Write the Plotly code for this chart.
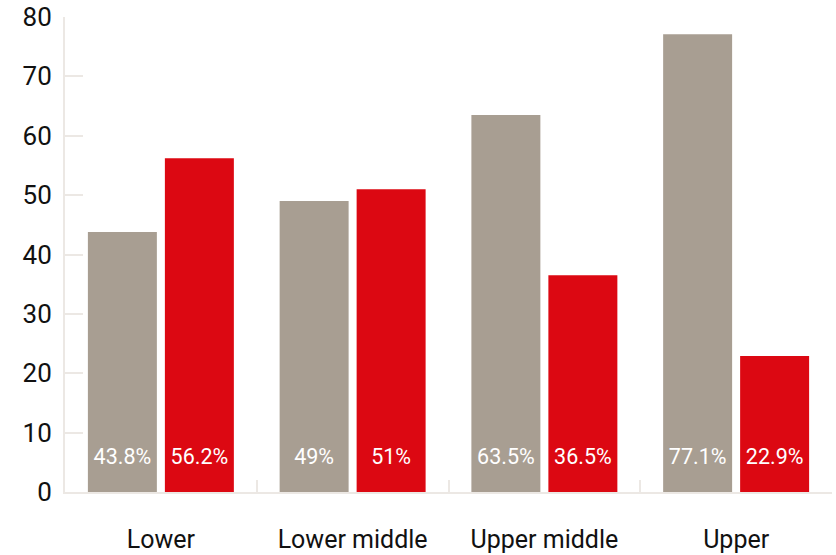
import plotly.graph_objects as go

categories = ["Lower", "Lower middle", "Upper middle", "Upper"]
gray_values = [43.8, 49, 63.5, 77.1]
red_values = [56.2, 51, 36.5, 22.9]
gray_labels = ["43.8%", "49%", "63.5%", "77.1%"]
red_labels = ["56.2%", "51%", "36.5%", "22.9%"]

FONT = "Roboto"
GRAY = "#a89e92"
RED = "#dc0812"
AXIS = "#ece8e4"

fig = go.Figure()
for vals, labs, col in [(gray_values, gray_labels, GRAY), (red_values, red_labels, RED)]:
    fig.add_trace(go.Bar(
        x=categories, y=vals, marker=dict(color=col, line=dict(width=0)),
        text=["<span style='font-size:21.5px'>" + l + "</span><br> " for l in labs],
        textposition="inside", insidetextanchor="start",
        textangle=0, textfont=dict(family=FONT, size=16, color="white"),
        hoverinfo="skip", showlegend=False,
    ))

fig.update_layout(
    width=836, height=555,
    margin=dict(l=65, r=4, t=17, b=63),
    paper_bgcolor="white", plot_bgcolor="white",
    barmode="group", bargap=0.197, bargroupgap=0.104,
    uniformtext=dict(mode=False),
    font=dict(family=FONT, color="#111111", size=25),
    xaxis=dict(
        showline=True, linecolor=AXIS, linewidth=2, automargin=False,
        ticks="inside", tickson="boundaries", ticklen=12, tickcolor=AXIS, tickwidth=2,
        tickfont=dict(family=FONT, size=25, color="#111111"),
        ticklabelstandoff=24, showgrid=False,
    ),
    yaxis=dict(
        range=[0, 80], dtick=10, showline=True, linecolor=AXIS, linewidth=2, automargin=False,
        ticks="inside", ticklen=18, tickcolor=AXIS, tickwidth=2,
        tickfont=dict(family=FONT, size=26, color="#111111"),
        showgrid=False, zeroline=False, ticklabelstandoff=6,
    ),
)

fig.write_html(
    "out.html",
    config={"displayModeBar": False},
    post_script="document.body.style.margin='0';document.body.style.overflow='hidden';",
)
